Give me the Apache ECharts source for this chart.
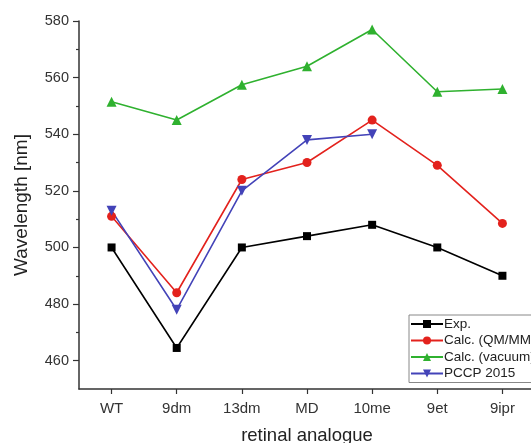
<!DOCTYPE html>
<html>
<head>
<meta charset="utf-8">
<script src="https://cdn.jsdelivr.net/npm/echarts@6/dist/echarts.min.js"></script>
<style>
  html, body { margin: 0; padding: 0; background: #fff; }
  #chart { width: 531px; height: 443px; }
</style>
</head>
<body>
<div id="chart"></div>
<script>
// Retinal analogues on the x axis
const categories = ['WT', '9dm', '13dm', 'MD', '10me', '9et', '9ipr'];

// Absorption wavelengths in nm
const expValues    = [500, 464.5, 500, 504, 508, 500, 490];
const qmmmValues   = [511, 484, 524, 530, 545, 529, 508.5];
const vacuumValues = [551.5, 545, 557.5, 564, 577, 555, 556];
const pccpValues   = [513, 478, 520, 538, 540];

// Y axis range and tick positions
const yMin = 450, yMax = 580;
const majorTicks = [460, 480, 500, 520, 540, 560, 580];
const minorTicks = [470, 490, 510, 530, 550, 570];

const font = 'Liberation Sans, Arial, sans-serif';
const axisColor = '#333';

function lineSeries(name, data, color, symbol, size, rotate) {
  return {
    name: name,
    type: 'line',
    yAxisIndex: 0,
    data: data,
    symbol: symbol,
    symbolSize: size,
    symbolRotate: rotate || 0,
    showSymbol: true,
    lineStyle: { color: color, width: 1.6 },
    itemStyle: { color: color },
    emphasis: { disabled: true },
    animation: false
  };
}

const chart = echarts.init(document.getElementById('chart'), null, { renderer: 'canvas' });
chart.setOption({
  backgroundColor: '#fff',
  animation: false,
  grid: { left: 79, top: 21, width: 456, height: 368, containLabel: false, outerBoundsMode: 'none' },
  legend: {
    left: 409,
    top: 315,
    orient: 'vertical',
    itemGap: 2.5,
    itemWidth: 32,
    itemHeight: 10,
    padding: [2, 40, 2, 1],
    borderColor: '#888',
    borderWidth: 1,
    backgroundColor: '#fff',
    textStyle: { fontFamily: font, fontSize: 13.5, color: '#222', padding: [0, 0, 0, -4] },
    data: ['Exp.', 'Calc. (QM/MM)', 'Calc. (vacuum)', 'PCCP 2015']
  },
  xAxis: {
    type: 'category',
    data: categories,
    boundaryGap: true,
    name: 'retinal analogue',
    nameLocation: 'middle',
    nameGap: 37,
    nameTextStyle: { fontFamily: font, fontSize: 18.5, color: '#222' },
    axisLine: { show: true, lineStyle: { color: axisColor, width: 1.5 } },
    axisTick: { show: true, alignWithLabel: true, length: 5, lineStyle: { color: axisColor, width: 1.2 } },
    axisLabel: { fontFamily: font, fontSize: 15, color: '#333', margin: 12 },
    splitLine: { show: false }
  },
  yAxis: [
    {
      type: 'value',
      min: yMin,
      max: yMax,
      interval: 10,
      name: 'Wavelength [nm]',
      nameLocation: 'middle',
      nameGap: 48,
      nameTextStyle: { fontFamily: font, fontSize: 19, color: '#222', padding: [0, 0, 0, 0] },
      axisLine: { show: true, lineStyle: { color: axisColor, width: 1.5 } },
      axisTick: { show: true, customValues: majorTicks, length: 6, lineStyle: { color: axisColor, width: 1.2 } },
      axisLabel: { customValues: majorTicks, fontFamily: font, fontSize: 14.5, color: '#333', margin: 10 },
      splitLine: { show: false }
    },
    {
      // minor ticks between the labelled ones
      type: 'value',
      min: yMin,
      max: yMax,
      interval: 10,
      position: 'left',
      axisLine: { show: false },
      axisTick: { show: true, customValues: minorTicks, length: 3, lineStyle: { color: axisColor, width: 1.2 } },
      axisLabel: { show: false },
      splitLine: { show: false }
    }
  ],
  series: [
    lineSeries('Exp.', expValues, '#000000', 'rect', 8),
    lineSeries('Calc. (QM/MM)', qmmmValues, '#e3221d', 'circle', 9),
    lineSeries('Calc. (vacuum)', vacuumValues, '#2fb12f', 'triangle', 10),
    lineSeries('PCCP 2015', pccpValues, '#4343b8', 'triangle', 10, 180)
  ]
});
</script>
</body>
</html>
